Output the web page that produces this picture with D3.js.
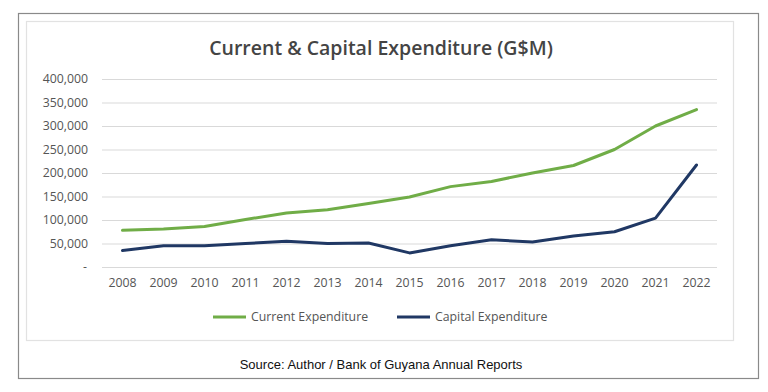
<!DOCTYPE html>
<html>
<head>
<meta charset="utf-8">
<script src="https://cdn.jsdelivr.net/npm/d3@7"></script>
<style>
  body { margin: 0; background: #fff; }
  svg { display: block; }
</style>
</head>
<body>
<div id="chart"></div>
<script>
// data (G$M)
var years = ["2008", "2009", "2010", "2011", "2012", "2013", "2014", "2015",
             "2016", "2017", "2018", "2019", "2020", "2021", "2022"];
var current = [78000, 81000, 86000, 101000, 115000, 122000, 135000, 149000,
               171000, 182000, 200000, 216000, 250000, 300000, 335000];
var capital = [35000, 45000, 45000, 50000, 55000, 50000, 51000, 30000,
               45000, 58000, 53000, 66000, 75000, 104000, 217000];
var yTicks = [0, 50000, 100000, 150000, 200000, 250000, 300000, 350000, 400000];

var W = 768, H = 392;
var svg = d3.select("#chart").append("svg").attr("width", W).attr("height", H);

// frames
svg.append("rect").attr("x", 18.5).attr("y", 13.5).attr("width", 740).attr("height", 365)
    .attr("fill", "#fff").attr("stroke", "#8a8a8a").attr("stroke-width", 1.2);
svg.append("rect").attr("x", 26.5).attr("y", 21.5).attr("width", 707).attr("height", 319)
    .attr("fill", "#fff").attr("stroke", "#e2e2e2").attr("stroke-width", 1.2);

svg.append("text")
    .attr("x", 381).attr("y", 55)
    .attr("text-anchor", "middle")
    .style("font-family", "'Open Sans', sans-serif")
    .style("font-weight", 600)
    .style("font-size", "19.5px")
    .style("fill", "#444")
    .text("Current & Capital Expenditure (G$M)");

var x = d3.scaleBand().domain(years).range([102, 717]);
var y = d3.scaleLinear().domain([0, 400000]).range([267, 79]);

var fmt = function(d) { return d === 0 ? "-" : d3.format(",")(d); };

// grid
svg.append("g").selectAll("line").data(yTicks).join("line")
    .attr("x1", 102).attr("x2", 717)
    .attr("y1", function(d) { return y(d) + 0.5; })
    .attr("y2", function(d) { return y(d) + 0.5; })
    .attr("stroke", "#d9d9d9").attr("stroke-width", 1);

var yAxis = svg.append("g").attr("transform", "translate(88,0)")
    .call(d3.axisLeft(y).tickValues(yTicks).tickFormat(fmt).tickSize(0).tickPadding(0));
yAxis.select(".domain").remove();
yAxis.selectAll("text")
    .style("font-family", "'Open Sans', sans-serif")
    .style("font-size", "12.3px")
    .style("fill", "#555")
    .attr("x", function(d) { return d === 0 ? -1 : 0; });

var xAxis = svg.append("g").attr("transform", "translate(0,278)")
    .call(d3.axisBottom(x).tickSize(0).tickPadding(0));
xAxis.select(".domain").remove();
xAxis.selectAll("text")
    .style("font-family", "'Open Sans', sans-serif")
    .style("font-size", "12.3px")
    .style("fill", "#555");

var line = d3.line()
    .x(function(d, i) { return x(years[i]) + x.bandwidth() / 2; })
    .y(function(d) { return y(d); });

var series = [
    { name: "Current Expenditure", values: current, color: "#70ad47" },
    { name: "Capital Expenditure", values: capital, color: "#203864" }
];

svg.append("g").selectAll("path").data(series).join("path")
    .attr("d", function(s) { return line(s.values); })
    .attr("fill", "none")
    .attr("stroke", function(s) { return s.color; })
    .attr("stroke-width", 3)
    .attr("stroke-linejoin", "round")
    .attr("stroke-linecap", "round");

// legend
var legX = [213, 397];
var leg = svg.append("g").selectAll("g").data(series).join("g")
    .attr("transform", function(d, i) { return "translate(" + legX[i] + ",317)"; });
leg.append("line").attr("x1", 0).attr("x2", 33)
    .attr("stroke", function(d) { return d.color; }).attr("stroke-width", 3);
leg.append("text").attr("x", 38).attr("dy", "0.35em")
    .style("font-family", "'Open Sans', sans-serif")
    .style("font-size", "12.3px")
    .style("fill", "#555")
    .text(function(d) { return d.name; });

svg.append("text")
    .attr("x", 381).attr("y", 369)
    .attr("text-anchor", "middle")
    .style("font-family", "'Liberation Sans Narrow', 'Arial Narrow', sans-serif")
    .style("font-size", "13px")
    .style("fill", "#111")
    .text("Source: Author / Bank of Guyana Annual Reports");
</script>
</body>
</html>
